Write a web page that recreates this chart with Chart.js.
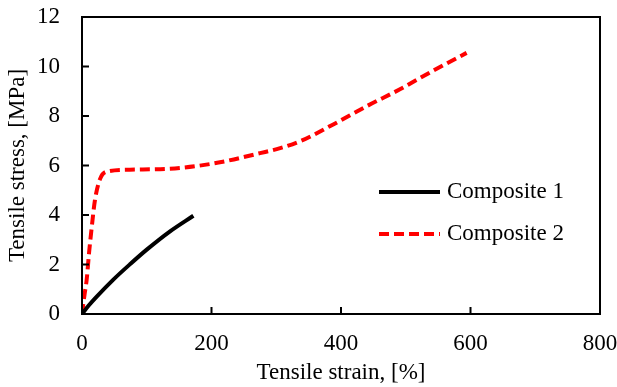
<!DOCTYPE html>
<html>
<head>
<meta charset="utf-8">
<script src="https://cdn.jsdelivr.net/npm/chart.js@4"></script>
<style>
  body { margin: 0; background: #fff; }
  canvas { display: block; }
</style>
</head>
<body>
<canvas id="stressStrain" width="617" height="387"></canvas>
<script>
// data
const seriesNames = ["Composite 1", "Composite 2"];
const strain1 = [0, 10, 22.7, 48, 75, 100, 136, 172];
const stress1 = [0, 0.33, 0.7, 1.38, 2.03, 2.6, 3.34, 3.97];
const strain2 = [0, 4, 7.2, 11, 15, 20, 27.8, 38, 74, 151, 213, 275, 306, 337, 388, 440, 491, 543, 594];
const stress2 = [0, 0.8, 1.38, 2.5, 3.5, 4.6, 5.45, 5.75, 5.83, 5.9, 6.13, 6.5, 6.7, 6.98, 7.66, 8.4, 9.08, 9.84, 10.55];
const xTicks = [0, 200, 400, 600, 800];
const yTicks = [0, 2, 4, 6, 8, 10, 12];

const font = { family: "'Liberation Serif', 'Times New Roman', serif", size: 23 };

function toPoints(xs, ys) {
  return xs.map((x, i) => ({ x: x, y: ys[i] }));
}

// box around plot + inward tick marks + legend inside the plot
const framePlugin = {
  id: "frame",
  afterDraw(chart) {
    const ctx = chart.ctx;
    const a = chart.chartArea;
    const xs = chart.scales.x;
    const ys = chart.scales.y;
    ctx.save();
    ctx.strokeStyle = "#000";
    ctx.lineWidth = 2;
    ctx.strokeRect(a.left, a.top, a.right - a.left, a.bottom - a.top);

    ctx.beginPath();
    xTicks.slice(1, -1).forEach((v) => {
      const px = xs.getPixelForValue(v);
      ctx.moveTo(px, a.bottom);
      ctx.lineTo(px, a.bottom - 7);
    });
    yTicks.slice(1, -1).forEach((v) => {
      const py = ys.getPixelForValue(v);
      ctx.moveTo(a.left, py);
      ctx.lineTo(a.left + 7, py);
    });
    ctx.stroke();

    // legend
    const lx = a.left + 297;
    const rows = [a.top + 175, a.top + 217];
    chart.data.datasets.forEach((ds, i) => {
      const y = rows[i];
      ctx.beginPath();
      ctx.strokeStyle = ds.borderColor;
      ctx.lineWidth = ds.borderWidth;
      ctx.setLineDash(ds.borderDash || []);
      ctx.moveTo(lx, y);
      ctx.lineTo(lx + 61, y);
      ctx.stroke();
      ctx.setLineDash([]);
      ctx.fillStyle = "#000";
      ctx.font = font.size + "px " + font.family;
      ctx.textBaseline = "middle";
      ctx.textAlign = "left";
      ctx.fillText(ds.label, lx + 68, y);
    });
    ctx.restore();
  },
};

let ctx = document.getElementById("stressStrain").getContext("2d");
new Chart(ctx, {
  type: "line",
  data: {
    datasets: [
      {
        label: seriesNames[0],
        data: toPoints(strain1, stress1),
        borderColor: "#000000",
        borderWidth: 4,
        pointRadius: 0,
        cubicInterpolationMode: "monotone",
        fill: false,
      },
      {
        label: seriesNames[1],
        data: toPoints(strain2, stress2),
        borderColor: "#ff0000",
        borderWidth: 4,
        borderDash: [10, 5],
        pointRadius: 0,
        cubicInterpolationMode: "monotone",
        fill: false,
      },
    ],
  },
  options: {
    responsive: false,
    animation: false,
    layout: { padding: { top: 17, right: 17, left: 0, bottom: 0 } },
    plugins: {
      legend: { display: false },
      tooltip: { enabled: false },
    },
    scales: {
      x: {
        type: "linear",
        min: 0,
        max: 800,
        afterFit: (s) => {
          s.height = 73;
          s.paddingLeft = 0;
          s.paddingRight = 0;
        },
        afterBuildTicks: (s) => { s.ticks = xTicks.map((v) => ({ value: v })); },
        grid: { display: false, drawTicks: false },
        border: { display: false },
        ticks: { color: "#000", font: font, padding: 16, maxRotation: 0 },
        title: {
          display: true,
          text: "Tensile strain, [%]",
          color: "#000",
          font: font,
          padding: { top: 0, bottom: 0 },
        },
      },
      y: {
        min: 0,
        max: 12,
        afterFit: (s) => {
          s.width = 82;
          s.paddingTop = 0;
          s.paddingBottom = 0;
        },
        afterBuildTicks: (s) => { s.ticks = yTicks.map((v) => ({ value: v })); },
        grid: { display: false, drawTicks: false },
        border: { display: false },
        ticks: { color: "#000", font: font, padding: 22 },
        title: {
          display: true,
          text: "Tensile stress, [MPa]",
          color: "#000",
          font: font,
          padding: { top: 4, bottom: 0 },
        },
      },
    },
  },
  plugins: [framePlugin],
});
</script>
</body>
</html>
